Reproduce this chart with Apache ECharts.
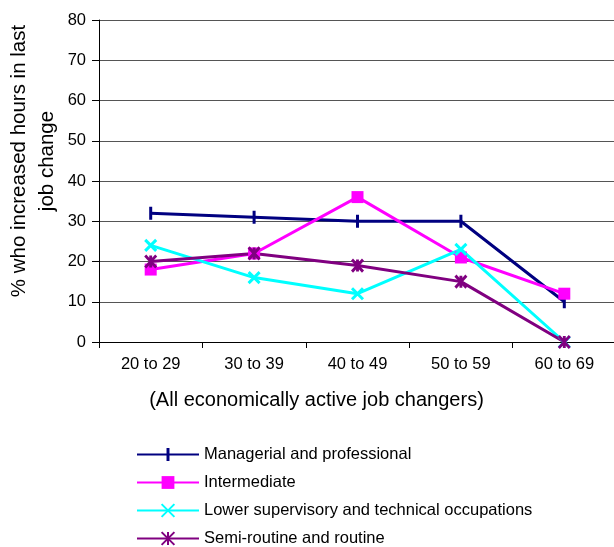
<!DOCTYPE html>
<html>
<head>
<meta charset="utf-8">
<script src="https://cdn.jsdelivr.net/npm/echarts@6/dist/echarts.min.js"></script>
<style>
html,body{margin:0;padding:0;background:#fff;}
#chart{width:614px;height:547px;}
</style>
</head>
<body>
<div id="chart"></div>
<script>
var categories = ['20 to 29', '30 to 39', '40 to 49', '50 to 59', '60 to 69'];
var managerial = [32, 31, 30, 30, 10];
var intermediate = [18, 22, 36, 21, 12];
var lowerSupervisory = [24, 16, 12, 23, 0];
var semiRoutine = [20, 22, 19, 15, 0];
var yTicks = [0, 10, 20, 30, 40, 50, 60, 70, 80];

var FONT = '"Liberation Sans", Arial, sans-serif';
var chart = echarts.init(document.getElementById('chart'), null, {renderer: 'canvas'});

function lineSeries(name, data, color, symbol, size, stroked) {
  return {
    name: name,
    type: 'line',
    data: data,
    symbol: symbol,
    symbolSize: size,
    showAllSymbol: true,
    lineStyle: {color: color, width: 3},
    itemStyle: stroked ? {color: color, borderColor: color, borderWidth: 3} : {color: color, borderWidth: 0},
    emphasis: {disabled: true},
    animation: false
  };
}

var barSymbol = 'path://M0,0L0.01,0L0,0.01Z M5,0L8,0L8,13L5,13Z M13,13L12.99,13L13,12.99Z';

chart.setOption({
  backgroundColor: '#fff',
  animation: false,
  grid: {left: 99, top: 20, width: 517, height: 322, containLabel: false, outerBoundsMode: 'none'},
  xAxis: {
    type: 'category',
    data: categories,
    boundaryGap: true,
    name: '(All economically active job changers)',
    nameLocation: 'middle',
    nameGap: 48,
    nameMoveOverlap: false,
    nameTextStyle: {fontFamily: FONT, fontSize: 20, color: '#000', padding: [0, 82, 0, 0]},
    axisLine: {lineStyle: {color: '#000', width: 1}},
    axisTick: {show: true, length: 6, lineStyle: {color: '#000'}},
    axisLabel: {fontFamily: FONT, fontSize: 16.5, color: '#000', margin: 14}
  },
  yAxis: {
    type: 'value',
    min: yTicks[0],
    max: yTicks[yTicks.length - 1],
    interval: 10,
    name: '% who increased hours in last\njob change',
    nameLocation: 'middle',
    nameRotate: 90,
    nameGap: 38,
    nameMoveOverlap: false,
    nameTextStyle: {fontFamily: FONT, fontSize: 20.5, color: '#000', lineHeight: 28, align: 'center', padding: [0, 0, 0, 40]},
    axisLine: {show: true, lineStyle: {color: '#000', width: 1}},
    axisTick: {show: true, length: 7, lineStyle: {color: '#000'}},
    axisLabel: {fontFamily: FONT, fontSize: 16.5, color: '#000', margin: 13},
    splitLine: {show: true, lineStyle: {color: '#555', width: 1.2}}
  },
  legend: {
    orient: 'vertical',
    left: 136,
    top: 446,
    height: 130,
    padding: 0,
    itemWidth: 62,
    itemHeight: 16,
    itemGap: 11,
    textStyle: {fontFamily: FONT, fontSize: 16.5, color: '#000', lineHeight: 16},
    data: ['Managerial and professional', 'Intermediate', 'Lower supervisory and technical occupations', 'Semi-routine and routine']
  },
  series: [
    lineSeries('Managerial and professional', managerial, '#000080', barSymbol, 13, false),
    lineSeries('Intermediate', intermediate, '#FF00FF', 'rect', [12, 12], false),
    lineSeries('Lower supervisory and technical occupations', lowerSupervisory, '#00FFFF', 'path://M0,0L12,12M12,0L0,12', [11, 11], true),
    lineSeries('Semi-routine and routine', semiRoutine, '#800080', 'path://M0,0L12,12M12,0L0,12M6,0L6,12', [11, 12], true)
  ]
});
</script>
</body>
</html>
